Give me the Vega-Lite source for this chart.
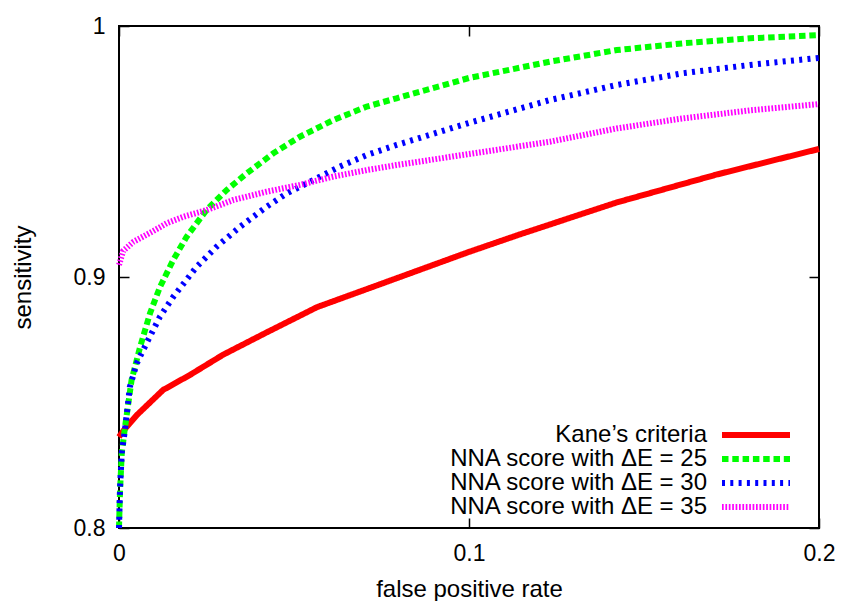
{
  "$schema": "https://vega.github.io/schema/vega-lite/v6.json",
  "width": 700,
  "height": 502,
  "autosize": "none",
  "padding": {"left": 119, "top": 26, "right": 23, "bottom": 73},
  "background": "white",
  "data": {
    "values": [
      {"series": "Kane’s criteria", "fpr": 0, "sens": 0.8363},
      {"series": "Kane’s criteria", "fpr": 0.0014, "sens": 0.839},
      {"series": "Kane’s criteria", "fpr": 0.0051, "sens": 0.845},
      {"series": "Kane’s criteria", "fpr": 0.0126, "sens": 0.855},
      {"series": "Kane’s criteria", "fpr": 0.0203, "sens": 0.861},
      {"series": "Kane’s criteria", "fpr": 0.0297, "sens": 0.869},
      {"series": "Kane’s criteria", "fpr": 0.0423, "sens": 0.878},
      {"series": "Kane’s criteria", "fpr": 0.0566, "sens": 0.888},
      {"series": "Kane’s criteria", "fpr": 0.0803, "sens": 0.9},
      {"series": "Kane’s criteria", "fpr": 0.1, "sens": 0.91},
      {"series": "Kane’s criteria", "fpr": 0.1146, "sens": 0.917},
      {"series": "Kane’s criteria", "fpr": 0.1422, "sens": 0.9297},
      {"series": "Kane’s criteria", "fpr": 0.1707, "sens": 0.9408},
      {"series": "Kane’s criteria", "fpr": 0.2, "sens": 0.951},

      {"series": "NNA score with ΔE = 25", "fpr": 0, "sens": 0.8},
      {"series": "NNA score with ΔE = 25", "fpr": 0.0003, "sens": 0.815},
      {"series": "NNA score with ΔE = 25", "fpr": 0.0008, "sens": 0.83},
      {"series": "NNA score with ΔE = 25", "fpr": 0.0017, "sens": 0.84},
      {"series": "NNA score with ΔE = 25", "fpr": 0.0036, "sens": 0.859},
      {"series": "NNA score with ΔE = 25", "fpr": 0.006, "sens": 0.872},
      {"series": "NNA score with ΔE = 25", "fpr": 0.0089, "sens": 0.8857},
      {"series": "NNA score with ΔE = 25", "fpr": 0.0117, "sens": 0.896},
      {"series": "NNA score with ΔE = 25", "fpr": 0.0155, "sens": 0.9068},
      {"series": "NNA score with ΔE = 25", "fpr": 0.0193, "sens": 0.916},
      {"series": "NNA score with ΔE = 25", "fpr": 0.025, "sens": 0.9267},
      {"series": "NNA score with ΔE = 25", "fpr": 0.0308, "sens": 0.9347},
      {"series": "NNA score with ΔE = 25", "fpr": 0.0365, "sens": 0.9413},
      {"series": "NNA score with ΔE = 25", "fpr": 0.0441, "sens": 0.9493},
      {"series": "NNA score with ΔE = 25", "fpr": 0.0517, "sens": 0.9559},
      {"series": "NNA score with ΔE = 25", "fpr": 0.0612, "sens": 0.9625},
      {"series": "NNA score with ΔE = 25", "fpr": 0.0708, "sens": 0.9679},
      {"series": "NNA score with ΔE = 25", "fpr": 0.0793, "sens": 0.9712},
      {"series": "NNA score with ΔE = 25", "fpr": 0.1, "sens": 0.9793},
      {"series": "NNA score with ΔE = 25", "fpr": 0.1231, "sens": 0.9858},
      {"series": "NNA score with ΔE = 25", "fpr": 0.1422, "sens": 0.9904},
      {"series": "NNA score with ΔE = 25", "fpr": 0.1612, "sens": 0.9931},
      {"series": "NNA score with ΔE = 25", "fpr": 0.1803, "sens": 0.9951},
      {"series": "NNA score with ΔE = 25", "fpr": 0.2, "sens": 0.9964},

      {"series": "NNA score with ΔE = 30", "fpr": 0, "sens": 0.8},
      {"series": "NNA score with ΔE = 30", "fpr": 0.0003, "sens": 0.8163},
      {"series": "NNA score with ΔE = 30", "fpr": 0.0008, "sens": 0.83},
      {"series": "NNA score with ΔE = 30", "fpr": 0.0017, "sens": 0.839},
      {"series": "NNA score with ΔE = 30", "fpr": 0.0031, "sens": 0.8562},
      {"series": "NNA score with ΔE = 30", "fpr": 0.0051, "sens": 0.8657},
      {"series": "NNA score with ΔE = 30", "fpr": 0.0079, "sens": 0.8737},
      {"series": "NNA score with ΔE = 30", "fpr": 0.0117, "sens": 0.8842},
      {"series": "NNA score with ΔE = 30", "fpr": 0.0155, "sens": 0.8921},
      {"series": "NNA score with ΔE = 30", "fpr": 0.0222, "sens": 0.9041},
      {"series": "NNA score with ΔE = 30", "fpr": 0.0279, "sens": 0.9121},
      {"series": "NNA score with ΔE = 30", "fpr": 0.0346, "sens": 0.92},
      {"series": "NNA score with ΔE = 30", "fpr": 0.0422, "sens": 0.928},
      {"series": "NNA score with ΔE = 30", "fpr": 0.0479, "sens": 0.9333},
      {"series": "NNA score with ΔE = 30", "fpr": 0.0555, "sens": 0.9386},
      {"series": "NNA score with ΔE = 30", "fpr": 0.0631, "sens": 0.944},
      {"series": "NNA score with ΔE = 30", "fpr": 0.0708, "sens": 0.9486},
      {"series": "NNA score with ΔE = 30", "fpr": 0.0793, "sens": 0.9526},
      {"series": "NNA score with ΔE = 30", "fpr": 0.1, "sens": 0.9614},
      {"series": "NNA score with ΔE = 30", "fpr": 0.1231, "sens": 0.9705},
      {"series": "NNA score with ΔE = 30", "fpr": 0.1422, "sens": 0.9765},
      {"series": "NNA score with ΔE = 30", "fpr": 0.1612, "sens": 0.9812},
      {"series": "NNA score with ΔE = 30", "fpr": 0.1803, "sens": 0.9845},
      {"series": "NNA score with ΔE = 30", "fpr": 0.2, "sens": 0.9873},

      {"series": "NNA score with ΔE = 35", "fpr": 0, "sens": 0.9048},
      {"series": "NNA score with ΔE = 35", "fpr": 0.0012, "sens": 0.9104},
      {"series": "NNA score with ΔE = 35", "fpr": 0.0041, "sens": 0.914},
      {"series": "NNA score with ΔE = 35", "fpr": 0.0094, "sens": 0.918},
      {"series": "NNA score with ΔE = 35", "fpr": 0.0136, "sens": 0.9214},
      {"series": "NNA score with ΔE = 35", "fpr": 0.0184, "sens": 0.924},
      {"series": "NNA score with ΔE = 35", "fpr": 0.0251, "sens": 0.9267},
      {"series": "NNA score with ΔE = 35", "fpr": 0.0327, "sens": 0.9307},
      {"series": "NNA score with ΔE = 35", "fpr": 0.0422, "sens": 0.934},
      {"series": "NNA score with ΔE = 35", "fpr": 0.0517, "sens": 0.9367},
      {"series": "NNA score with ΔE = 35", "fpr": 0.0612, "sens": 0.94},
      {"series": "NNA score with ΔE = 35", "fpr": 0.0708, "sens": 0.9426},
      {"series": "NNA score with ΔE = 35", "fpr": 0.0793, "sens": 0.9446},
      {"series": "NNA score with ΔE = 35", "fpr": 0.1, "sens": 0.949},
      {"series": "NNA score with ΔE = 35", "fpr": 0.1231, "sens": 0.9539},
      {"series": "NNA score with ΔE = 35", "fpr": 0.1422, "sens": 0.9592},
      {"series": "NNA score with ΔE = 35", "fpr": 0.1612, "sens": 0.9632},
      {"series": "NNA score with ΔE = 35", "fpr": 0.1803, "sens": 0.9664},
      {"series": "NNA score with ΔE = 35", "fpr": 0.2, "sens": 0.9689}
    ]
  },
  "config": {
    "view": {"stroke": "black", "strokeWidth": 2},
    "font": "Liberation Sans",
    "axis": {
      "domain": false,
      "grid": false,
      "tickSize": -10,
      "tickColor": "black",
      "tickWidth": 1.5,
      "labelFont": "Liberation Sans",
      "labelFontSize": 23,
      "labelColor": "black",
      "labelFlush": false,
      "titleFont": "Liberation Sans",
      "titleFontSize": 24,
      "titleFontWeight": "normal",
      "titleColor": "black"
    }
  },
  "layer": [
    {
      "mark": {"type": "line", "strokeCap": "butt", "strokeJoin": "miter"},
      "encoding": {
        "x": {
          "field": "fpr", "type": "quantitative",
          "scale": {"domain": [0, 0.2], "nice": false, "zero": false},
          "axis": {"orient": "bottom", "values": [0, 0.1, 0.2], "format": "~g", "labelPadding": 24.3, "title": "false positive rate", "titlePadding": 12.5}
        },
        "y": {
          "field": "sens", "type": "quantitative",
          "scale": {"domain": [0.8, 1], "nice": false, "zero": false},
          "axis": {"orient": "left", "values": [0.8, 0.9, 1], "format": "~g", "labelPadding": 24, "title": "sensitivity", "titlePadding": 38}
        },
        "color": {
          "field": "series", "type": "nominal",
          "scale": {
            "domain": ["Kane’s criteria", "NNA score with ΔE = 25", "NNA score with ΔE = 30", "NNA score with ΔE = 35"],
            "range": ["#ff0000", "#00ff00", "#0000ff", "#ff00ff"]
          },
          "legend": {
            "orient": "none",
            "legendX": 588,
            "legendY": 397,
            "title": null,
            "padding": 0,
            "symbolType": "M -6.8 0 L 6.8 0",
            "symbolSize": 100,
            "symbolStrokeWidth": 6,
            "symbolFillColor": "transparent",
            "labelAlign": "right",
            "labelOffset": -61,
            "symbolOffset": 37,
            "labelFont": "Liberation Sans",
            "labelFontSize": 24,
            "labelColor": "black",
            "labelLimit": 400,
            "rowPadding": 0
          }
        },
        "strokeDash": {
          "field": "series", "type": "nominal",
          "scale": {
            "domain": ["Kane’s criteria", "NNA score with ΔE = 25", "NNA score with ΔE = 30", "NNA score with ΔE = 35"],
            "range": [[1, 0], [6.5, 3.8], [3, 5.3], [1.7, 1.7]]
          }
        },
        "strokeWidth": {
          "field": "series", "type": "nominal",
          "scale": {
            "domain": ["Kane’s criteria", "NNA score with ΔE = 25", "NNA score with ΔE = 30", "NNA score with ΔE = 35"],
            "range": [6, 6, 5, 6]
          },
          "legend": null
        }
      }
    },
    {
      "mark": {"type": "point", "opacity": 0},
      "encoding": {
        "x": {
          "field": "fpr", "type": "quantitative",
          "axis": {"orient": "top", "values": [0, 0.1, 0.2], "labels": false, "title": null}
        },
        "y": {
          "field": "sens", "type": "quantitative",
          "axis": {"orient": "right", "values": [0.8, 0.9, 1], "labels": false, "title": null}
        }
      }
    }
  ]
}
